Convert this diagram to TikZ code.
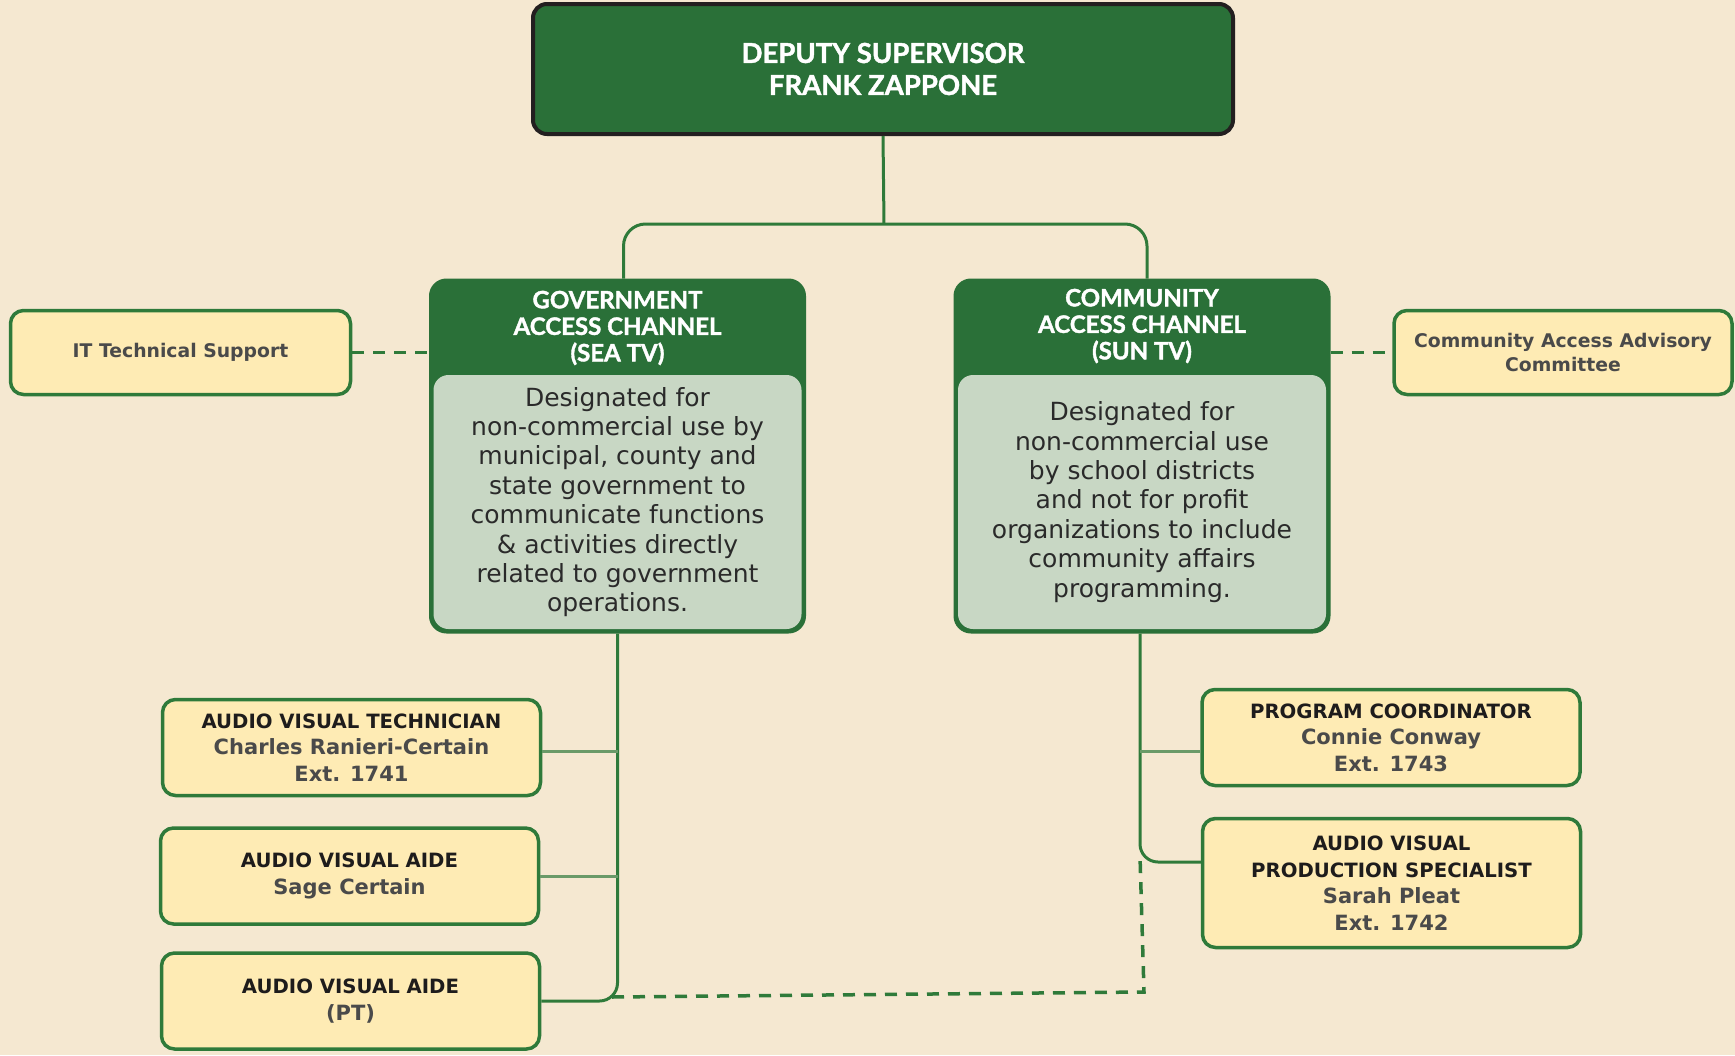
\documentclass[tikz,border=0pt]{standalone}
\usepackage{fontspec}
\setmainfont{DejaVu Sans}
\newfontfamily\headfont{Lato}[BoldFeatures={FakeBold=1.6}]
\definecolor{bgc}{HTML}{F5E8D1}
\definecolor{dgreen}{HTML}{2A7038}
\definecolor{bgreen}{HTML}{2F7A3A}
\definecolor{lgreen}{HTML}{C8D7C4}
\definecolor{yfill}{HTML}{FEEBB4}
\definecolor{brgreen}{HTML}{6A9A68}
\definecolor{titlec}{HTML}{1E1C1C}
\definecolor{namec}{HTML}{4A4A4A}
\definecolor{bodyc}{HTML}{2A2A2A}
\definecolor{darkb}{HTML}{231F20}
\newcommand{\ttl}[1]{{\color{titlec}\fontsize{19.7}{26.6}\selectfont #1}}
\begin{document}
\begin{tikzpicture}[x=1pt,y=-1pt,
  ybox/.style={draw=bgreen, line width=3.5pt, fill=yfill, rounded corners=13pt,
    inner sep=0pt, align=center, text=namec,
    font=\fontsize{21}{26.6}\selectfont\bfseries},
  sidebox/.style={ybox, font=\fontsize{18.8}{24.5}\selectfont\bfseries},
  chanbox/.style={draw=dgreen, line width=3pt, fill=dgreen, rounded corners=16pt,
    inner sep=0pt, minimum width=374pt, minimum height=352pt},
  chanhead/.style={text=white, align=center, inner sep=0pt,
    font=\headfont\fontsize{24}{26.5}\selectfont\bfseries},
  chanbody/.style={fill=lgreen, rounded corners=15pt, inner sep=0pt,
    minimum width=368pt, minimum height=254pt, align=center, text=bodyc,
    font=\fontsize{25}{29.4}\selectfont},
  conn/.style={draw=bgreen, line width=3pt},
  branch/.style={draw=brgreen, line width=3pt},
  dconn/.style={draw=bgreen, line width=3.5pt, dash pattern=on 12pt off 9pt}
]
\fill[bgc] (0,0) rectangle (1735,1055);
\useasboundingbox (0,0) rectangle (1735,1055);

% top box
\node[draw=darkb, line width=4pt, fill=dgreen, rounded corners=14pt, minimum width=700pt,
  minimum height=130pt, inner sep=0pt, text=white, align=center,
  font=\headfont\fontsize{27.5}{32}\selectfont\bfseries] (top) at (883,69)
  {DEPUTY SUPERVISOR\\FRANK ZAPPONE};

% channel boxes
\node[chanbox] (gov) at (617.5,456) {};
\node[chanhead] (govhead) at (617.5,328) {GOVERNMENT\\ACCESS CHANNEL\\(SEA TV)};
\node[chanbody] (govbody) at (617.5,502) {Designated for\\non-commercial use by\\municipal, county and\\state government to\\communicate functions\\\& activities directly\\related to government\\operations.};

\node[chanbox] (comm) at (1142,456) {};
\node[chanhead] (commhead) at (1142,326) {COMMUNITY\\ACCESS CHANNEL\\(SUN TV)};
\node[chanbody] (commbody) at (1142,502) {Designated for\\non-commercial use\\by school districts\\and not for profit\\organizations to include\\community affairs\\programming.};

% side boxes
\node[sidebox, minimum width=340pt, minimum height=84pt] (it) at (180.5,352.5) {IT Technical Support};
\node[sidebox, minimum width=338pt, minimum height=84pt] (cac) at (1563,352.5) {Community Access Advisory\\Committee};

% staff boxes
\node[ybox, minimum width=378pt, minimum height=96pt] (avtech) at (351.5,747.5)
  {\ttl{AUDIO VISUAL TECHNICIAN}\\Charles Ranieri-Certain\\Ext. 1741};
\node[ybox, minimum width=378pt, minimum height=96pt] (avaide) at (349.5,876)
  {\ttl{AUDIO VISUAL AIDE}\\Sage Certain};
\node[ybox, minimum width=378pt, minimum height=96pt] (avpt) at (350.5,1001)
  {\ttl{AUDIO VISUAL AIDE}\\(PT)};
\node[ybox, minimum width=378pt, minimum height=96pt] (pc) at (1391,737.5)
  {\ttl{PROGRAM COORDINATOR}\\Connie Conway\\Ext. 1743};
\node[ybox, minimum width=378pt, minimum height=129pt] (avps) at (1391.5,883)
  {\ttl{AUDIO VISUAL}\\\ttl{PRODUCTION SPECIALIST}\\Sarah Pleat\\Ext. 1742};

% connectors
\coordinate (j) at (884,224);
\draw[conn] (top.south) -- (j);
\draw[conn, rounded corners=22pt] ([xshift=6pt]gov.north) |- (j) -| ([xshift=5pt]comm.north);

\draw[conn, rounded corners=18pt] (gov.south) |- (avpt.east);
\draw[branch] ([yshift=-4pt]avtech.east) -- ([yshift=-4pt]avtech.east -| gov.south);
\draw[branch] (avaide.east) -- (avaide.east -| gov.south);

\coordinate (cs) at ([xshift=-2pt]comm.south);
\coordinate (pcb) at ([yshift=-14pt]pc.west);
\coordinate (psb) at ([yshift=21pt]avps.west);
\draw[conn, rounded corners=18pt] (cs) |- (psb);
\draw[branch] (pcb) -- (pcb -| cs);

% dashed links
\draw[dconn] (it.east) -- (it.east -| gov.west);
\draw[dconn] (cac.west -| comm.east) -- (cac.west);
\coordinate (dA) at (612,997);
\coordinate (dB) at (1144,992);
\coordinate (dC) at (1140,856);
\draw[dconn] (dA) -- (dB) -- (dC);
\end{tikzpicture}
\end{document}
